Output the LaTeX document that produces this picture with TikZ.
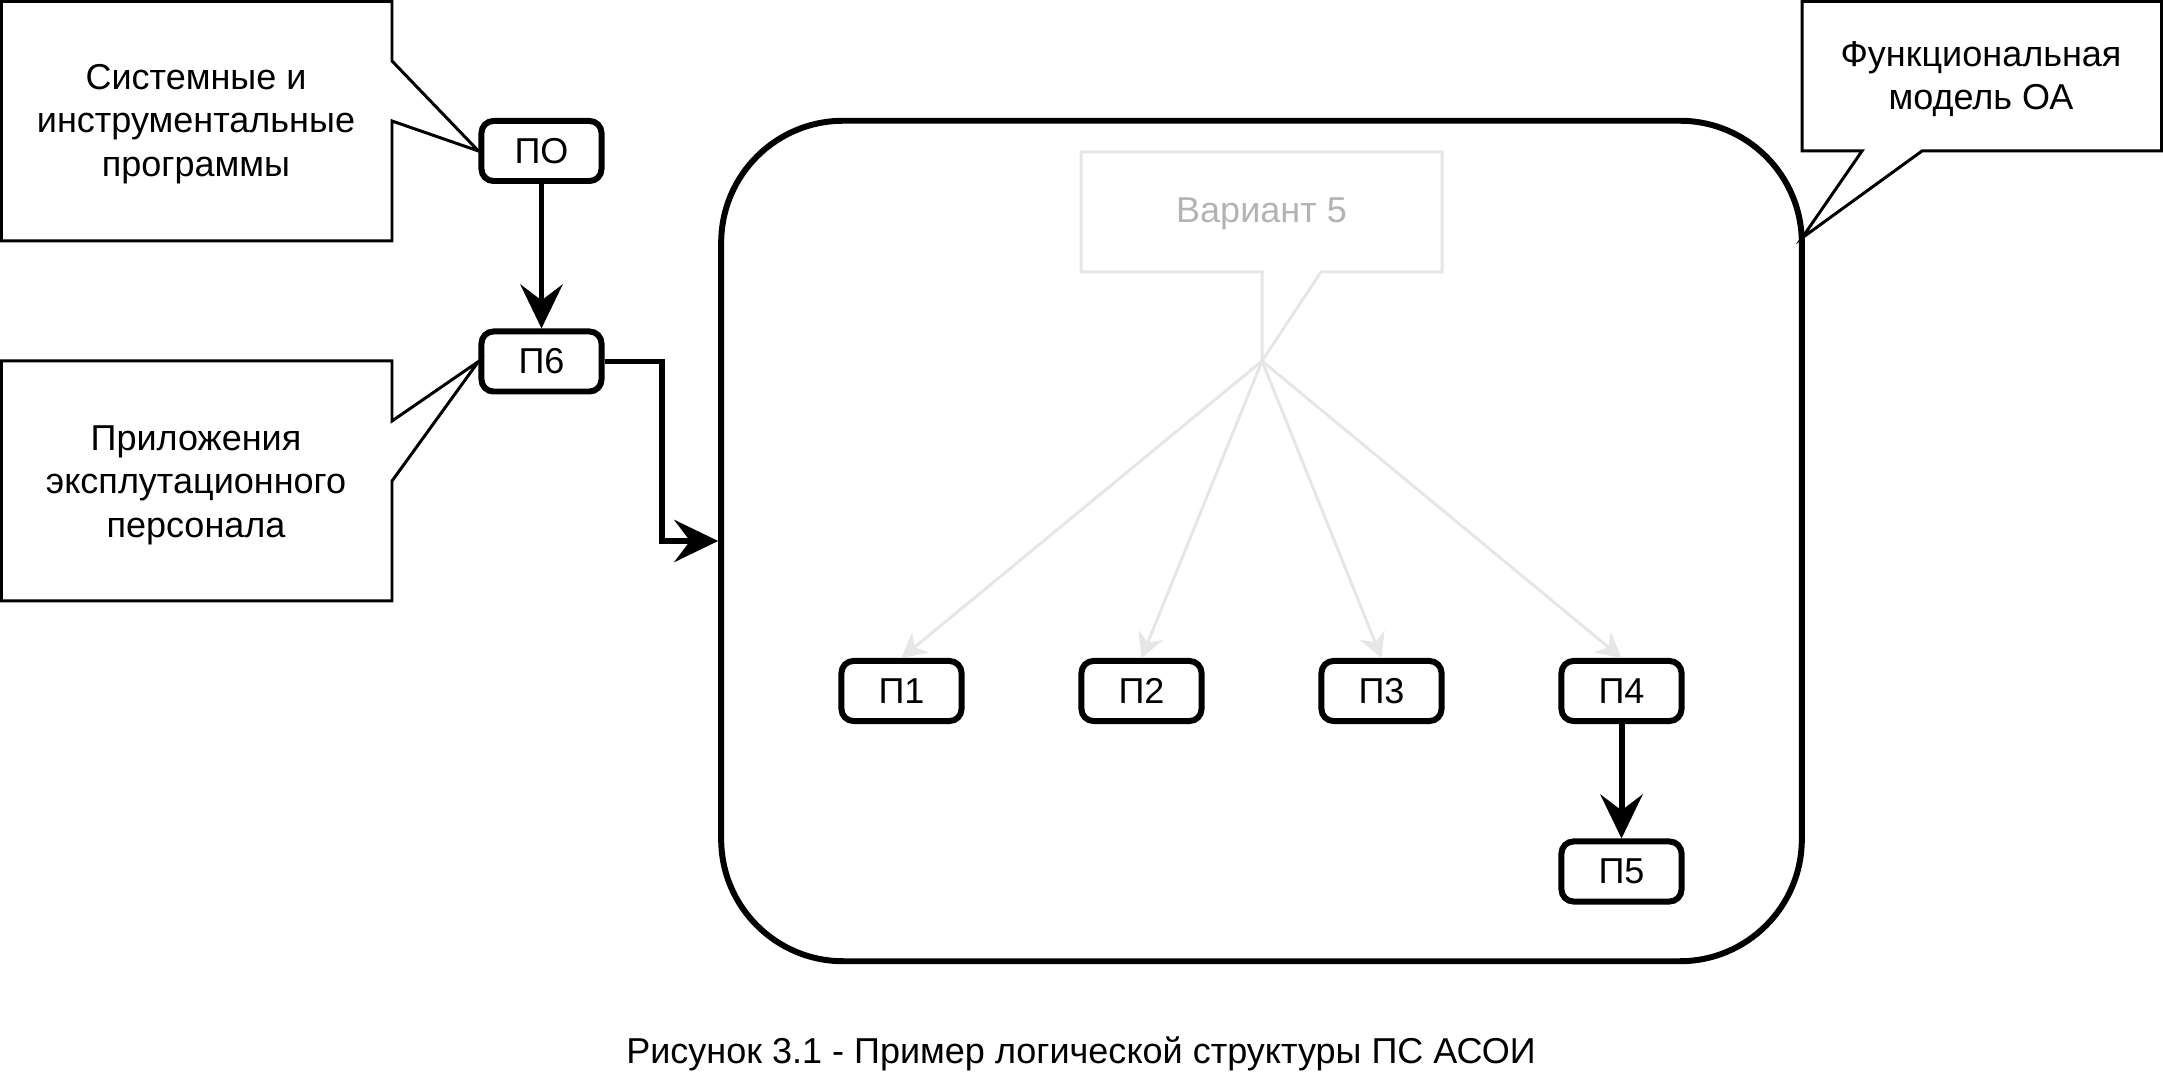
\documentclass[tikz,border=0pt]{standalone}
\usepackage{fontspec}
\setmainfont{Liberation Sans}
\usetikzlibrary{arrows.meta}
\definecolor{svetlo}{HTML}{E6E6E6}
\definecolor{seryj}{HTML}{B3B3B3}
\begin{document}
\begin{tikzpicture}[x=0.01cm, y=-0.01cm,
        every node/.style={font=\fontsize{10.24}{12.4}\selectfont},
        blok/.style={draw, line width=1.7pt, rounded corners=0.12cm, minimum width=1.2cm, minimum height=0.6cm, inner sep=0pt},
        vynoska/.style={draw, line width=0.85pt},
        blednaya/.style={draw=svetlo, line width=0.85pt},
        strelka/.style={line width=1.7pt, -{Stealth[length=12.5pt, width=12pt, inset=4.5pt]}},
        sstrelka/.style={draw=svetlo, line width=0.85pt, -{Stealth[length=7pt, width=7.5pt, inset=2.2pt]}}]
        \useasboundingbox (0,0) rectangle (2163,1083);
        \node[draw, line width=1.7pt, rounded corners=1.22cm, minimum width=10.8cm, minimum height=8.4cm] (oa) at (1261.5,541) {};
        \node[blok] (po) at (541.5,151) {ПО};
        \node[blok] (p6) at (541.5,361.5) {П6};
        \node[blok] (p1) at (901.5,691) {П1};
        \node[blok] (p2) at (1141.5,691) {П2};
        \node[blok] (p3) at (1381.5,691) {П3};
        \node[blok] (p4) at (1621.5,691) {П4};
        \node[blok] (p5) at (1621.5,871.5) {П5};
        \node[align=center] (sist) at (196,124) {Системные и\\инструментальные\\программы};
        \node[align=center] (pril) at (196,485) {Приложения\\эксплутационного\\персонала};
        \node[align=center] (funk) at (1981,79) {Функциональная\\модель ОА};
        \node[text=seryj] (var) at (1261.5,214) {Вариант 5};
        \coordinate (oatip) at (1802,238);
        \coordinate (vtip) at (1262,361);
        \draw[vynoska] (po.west) -- (392,61) -- (392,1.5) -- (1.5,1.5) -- (1.5,241) -- (392,241) -- (392,121) -- cycle;
        \draw[vynoska] (p6.west) -- (392,481) -- (392,601) -- (1.5,601) -- (1.5,361) -- (392,361) -- (392,421) -- cycle;
        \draw[vynoska] (oatip) -- (1922,151) -- (2161.5,151) -- (2161.5,1.5) -- (1802,1.5) -- (1802,151) -- (1862,151) -- cycle;
        \draw[blednaya] (vtip) -- (1321,272) -- (1442,272) -- (1442,152) -- (1081,152) -- (1081,272) -- (1262,272) -- cycle;
        \foreach \p in {p1,p2,p3,p4}
            \draw[sstrelka] (vtip) -- (\p.north);
        \draw[strelka] (po) -- (p6);
        \draw[strelka] (p4) -- (p5);
        \draw[strelka] (p6.east) -- ++(57,0) |- (oa.west);
        \node (podpis) at (1081,1054) {Рисунок 3.1 - Пример логической структуры ПС АСОИ};
    \end{tikzpicture}
\end{document}
